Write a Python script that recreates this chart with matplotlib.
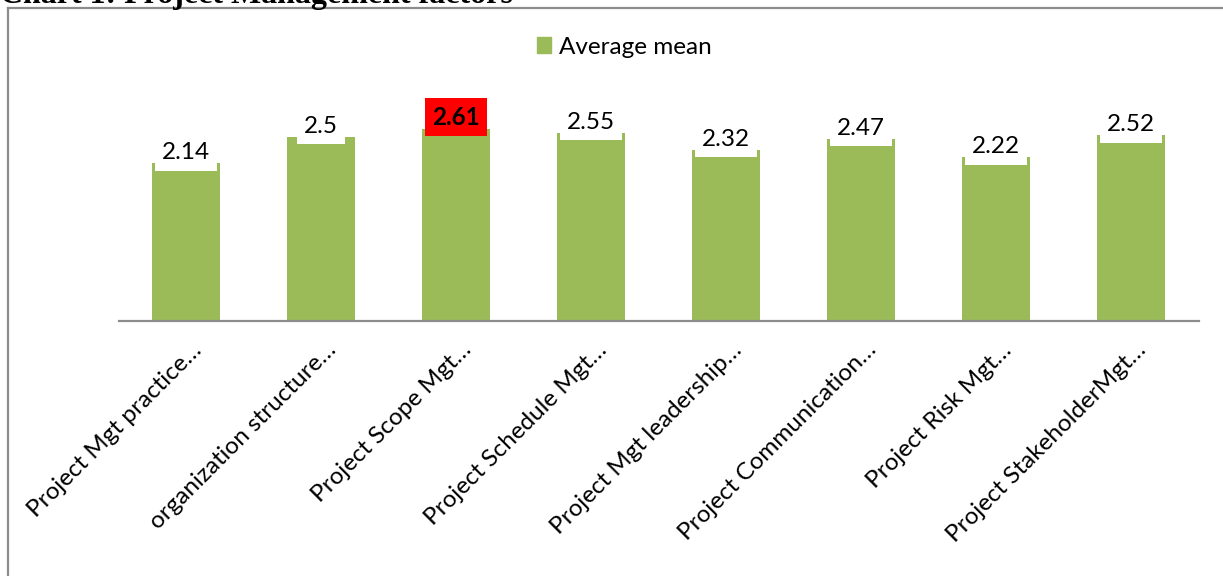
import matplotlib
matplotlib.use("Agg")
import matplotlib.pyplot as plt
from matplotlib.lines import Line2D
from matplotlib.patches import Patch
from matplotlib.transforms import ScaledTranslation, blended_transform_factory

categories = ["Project Mgt practice…", "organization structure…", "Project Scope Mgt…",
              "Project Schedule Mgt…", "Project Mgt leadership…", "Project Communication…",
              "Project Risk Mgt…", "Project StakeholderMgt…"]
values = [2.14, 2.5, 2.61, 2.55, 2.32, 2.47, 2.22, 2.52]
value_labels = ["2.14", "2.5", "2.61", "2.55", "2.32", "2.47", "2.22", "2.52"]
highlight = "2.61"
series_name = "Average mean"
title = "Chart 1: Project Management factors"

W, H, DPI = 1223, 576, 100
fig = plt.figure(figsize=(W / DPI, H / DPI), dpi=DPI)
plt.rcParams['font.family'] = ['Lato', 'DejaVu Sans']

GREEN = "#9BBB59"
GRAY = "#8C8C8C"
FS = 17.5

ax = fig.add_axes([118.5 / W, 1 - 320.5 / H, (1198.5 - 118.5) / W, (320.5 - 100) / H])
x = list(range(len(categories)))
ax.bar(x, values, width=0.51, color=GREEN, zorder=1)
ax.set_xlim(-0.5, len(categories) - 0.5)
ax.set_ylim(0, 3)
for s in ["top", "right", "left"]:
    ax.spines[s].set_visible(False)
ax.spines["bottom"].set_color(GRAY)
ax.spines["bottom"].set_linewidth(1.6)
ax.set_yticks([])
ax.set_xticks([])

# value labels
for xi, v, lab in zip(x, values, value_labels):
    hl = lab == highlight
    ax.annotate(lab, (xi, v), xytext=(0, 0.0), textcoords="offset points",
                ha="center", va="bottom", fontsize=FS,
                fontweight="bold" if hl else "normal", color="black", zorder=3,
                bbox=dict(boxstyle="square,pad=0.3", fc="#FF0000" if hl else "white",
                          ec="none"))

# category labels
trans = blended_transform_factory(ax.transData, ax.transAxes) + \
    ScaledTranslation(12 / 72, -22 / 72, fig.dpi_scale_trans)
for xi, c in zip(x, categories):
    ax.text(xi, 0, c, transform=trans, rotation=45, rotation_mode="anchor",
            ha="right", va="baseline", fontsize=FS, color="black")

# legend
fig.legend(handles=[Patch(color=GREEN, label=series_name)], loc="center",
           bbox_to_anchor=(624 / W, 1 - 47 / H), frameon=False, fontsize=FS,
           handlelength=0.6, handleheight=0.6, handletextpad=0.3)

# frame
fig.add_artist(Line2D([7.5 / W, 1222.5 / W], [1 - 8 / H, 1 - 8 / H], color=GRAY, lw=1.6))
fig.add_artist(Line2D([7.5 / W, 7.5 / W], [1 - 8 / H, 0], color=GRAY, lw=1.6))

# title (partly cut off at top, as in the reference)
fig.text(0, 1 - 2.5 / H, title, ha="left", va="baseline", fontsize=23,
         fontweight="bold", family="Liberation Serif")

fig.savefig("out.png", dpi=DPI)
